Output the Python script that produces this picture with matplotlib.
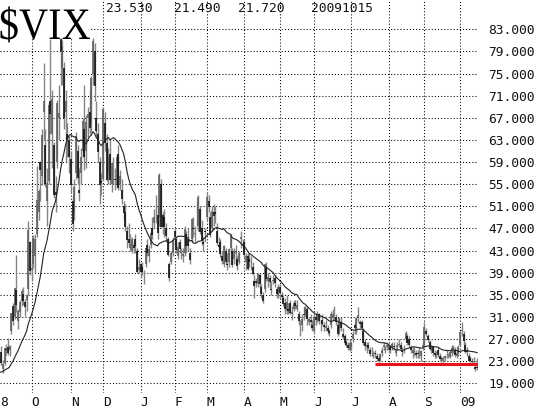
import numpy as np
import matplotlib
matplotlib.use("Agg")
import matplotlib.pyplot as plt
from matplotlib.textpath import TextPath
from matplotlib.patches import PathPatch, Rectangle
from matplotlib.font_manager import FontProperties
from matplotlib.transforms import Affine2D, IdentityTransform

# ---------------- data (daily $VIX, Sep 2 2008 .. Oct 15 2009) ----------------
month_labels = ["O", "N", "D", "J", "F", "M", "A", "M", "J", "J", "A", "S", "09"]
month_days = [21, 23, 19, 22, 20, 19, 22, 21, 20, 22, 22, 21, 21, 11]

warmup_closes = [23.49, 21.15, 21.58, 22.72, 20.66, 20.51, 21.17, 21.55, 20.37, 20.16,
                 21.28, 21.85, 20.87, 20.09, 18.81, 20.98, 20.79, 20.27, 19.43, 20.65]

opens = [
    20.2, 22.0, 22.6, 24.6, 21.5, 22.6, 25.2, 25.5, 25.1, 28.5, 33.0, 31.0, 35.8, 30.2, 31.9, 33.8, 35.2, 33.7, 34.0, 36.0, 44.6,
    39.5, 40.5, 42.0, 46.0, 50.0, 59.0, 56.5, 68.0, 62.0, 52.0, 55.5, 70.0, 64.0, 62.0, 53.5, 59.0, 67.0, 82.0, 76.0, 76.0, 68.0, 64.0, 63.0,
    59.5, 52.0, 50.0, 57.0, 61.0, 54.0, 57.0, 61.0, 65.0, 61.0, 67.0, 68.0, 66.0, 75.0, 79.0, 67.0, 64.0, 59.0, 55.5,
    56.0, 66.0, 62.5, 57.0, 60.5, 55.0, 58.0, 56.0, 55.0, 60.5, 55.0, 54.0, 51.0, 50.0, 46.5, 45.0, 43.5, 43.0, 44.0, 45.0, 43.0, 39.5,
    40.5, 40.0, 38.5, 40.5, 44.0, 42.0, 44.0, 47.0, 48.0, 51.0, 49.5, 49.0, 55.0, 49.5, 49.0, 47.0, 45.0, 40.5, 41.0, 42.5,
    46.5, 45.0, 42.0, 44.5, 42.5, 42.0, 42.5, 46.0, 45.0, 42.5, 45.0, 47.0, 46.0, 49.0, 47.5, 50.5, 47.0, 44.5, 46.5,
    49.0, 52.0, 49.0, 47.0, 50.0, 50.0, 46.5, 44.0, 44.5, 42.0, 40.5, 43.0, 40.5, 41.0, 43.5, 43.0, 41.5, 42.5, 41.5, 41.0, 45.0, 44.0,
    44.5, 41.0, 42.0, 41.5, 41.0, 40.0, 37.5, 37.5, 37.0, 38.5, 36.5, 35.0, 36.0, 40.0, 37.5, 38.0, 36.0, 37.5, 38.0, 36.0, 35.0,
    36.5, 35.0, 34.5, 33.5, 32.0, 32.5, 33.5, 31.5, 32.5, 33.5, 32.5, 31.5, 29.5, 29.5, 31.5, 31.5, 32.5, 30.0, 30.5, 29.5,
    28.5, 31.0, 30.5, 31.5, 29.5, 30.5, 29.5, 29.0, 29.0, 28.5, 29.5, 31.0, 31.5, 31.0, 29.5, 28.5, 30.0, 28.0, 27.5, 26.5, 26.0, 25.0,
    25.5, 27.0, 29.5, 28.5, 31.0, 30.0, 30.0, 28.5, 26.5, 25.5, 26.0, 25.0, 24.5, 24.0, 24.5, 24.0, 23.5, 23.5, 24.5, 25.5, 25.0, 25.5,
    25.0, 25.5, 25.5, 25.8, 24.5, 25.5, 26.0, 26.0, 25.0, 25.0, 27.0, 27.5, 27.0, 25.5, 24.5, 24.5, 24.5, 24.5, 24.5, 24.0, 25.5,
    26.0, 28.5, 27.5, 26.5, 25.0, 25.5, 24.5, 24.0, 25.0, 24.0, 23.5, 23.0, 23.5, 24.5, 24.0, 23.8, 24.5, 25.0, 25.0, 24.0, 24.5,
    26.0, 28.5, 28.0, 26.0, 25.0, 24.0, 23.5, 23.0, 23.0, 22.0, 22.0,
]
highs = [
    22.6, 23.0, 24.4, 25.7, 23.3, 25.6, 26.1, 27.1, 25.9, 31.8, 33.5, 36.3, 42.2, 32.5, 34.0, 36.1, 36.5, 34.2, 35.2, 48.4, 44.8,
    41.0, 45.9, 46.0, 58.2, 54.2, 59.1, 64.9, 76.9, 65.0, 58.0, 69.9, 81.2, 72.0, 62.7, 56.5, 70.3, 73.0, 89.5, 81.0, 77.0, 72.0, 66.0, 63.9,
    61.0, 53.0, 56.0, 64.5, 62.0, 58.0, 61.5, 67.0, 73.0, 67.5, 69.0, 72.0, 74.5, 81.5, 80.5, 70.0, 66.0, 60.0, 57.0,
    68.9, 68.0, 64.0, 61.5, 63.0, 59.0, 60.0, 58.0, 60.5, 62.0, 57.5, 56.0, 52.0, 51.5, 47.5, 48.0, 46.0, 45.5, 44.5, 46.0, 43.5, 41.5,
    40.8, 41.0, 39.5, 43.5, 45.0, 44.0, 46.5, 49.0, 50.5, 53.0, 51.0, 57.0, 56.0, 50.0, 50.5, 48.0, 45.5, 41.0, 43.0, 45.5,
    47.0, 45.5, 44.5, 45.0, 43.5, 43.5, 47.5, 46.5, 47.0, 43.5, 48.8, 49.0, 47.5, 52.0, 53.0, 51.0, 48.5, 45.5, 47.0,
    53.5, 53.0, 50.0, 51.0, 51.5, 51.0, 48.0, 45.5, 45.0, 43.0, 44.0, 43.5, 42.5, 43.5, 46.0, 43.5, 43.5, 44.0, 42.0, 43.0, 46.5, 45.0,
    45.0, 42.5, 42.5, 42.5, 42.0, 41.0, 38.5, 38.0, 39.0, 39.0, 37.0, 35.5, 40.5, 41.0, 39.0, 38.5, 37.5, 38.5, 38.5, 36.5, 37.0,
    37.0, 35.5, 35.0, 34.5, 35.0, 33.5, 34.0, 33.0, 34.0, 34.0, 34.0, 32.0, 30.5, 31.5, 33.0, 33.0, 33.0, 31.0, 31.5, 30.5,
    31.5, 31.5, 32.0, 31.8, 30.5, 31.5, 30.0, 30.5, 29.5, 28.8, 32.0, 32.5, 33.0, 31.5, 30.0, 31.0, 31.0, 29.0, 28.0, 27.0, 26.5, 27.0,
    26.5, 28.5, 30.0, 31.0, 32.8, 30.5, 30.5, 29.0, 27.0, 26.5, 26.5, 25.5, 25.5, 24.8, 25.0, 24.5, 24.0, 24.5, 25.5, 26.5, 25.8, 26.5,
    26.0, 26.0, 26.5, 26.5, 25.5, 26.5, 27.0, 26.5, 25.5, 26.0, 28.5, 28.0, 27.5, 26.0, 25.5, 25.5, 25.0, 25.0, 25.5, 25.0, 26.5,
    30.0, 29.0, 28.0, 26.8, 26.0, 25.8, 25.0, 24.8, 25.5, 24.5, 24.0, 24.0, 24.2, 25.0, 24.5, 25.0, 26.0, 26.0, 25.5, 24.8, 26.0,
    28.5, 30.0, 28.5, 26.5, 25.5, 24.5, 24.0, 23.5, 23.8, 22.5, 23.53,
]
lows = [
    19.6, 21.3, 22.3, 22.3, 20.8, 22.3, 24.2, 24.1, 24.0, 27.9, 29.5, 30.6, 31.9, 28.8, 31.0, 33.0, 33.2, 31.2, 32.0, 35.0, 38.5,
    37.5, 39.8, 39.0, 45.5, 48.5, 52.0, 54.8, 63.0, 54.5, 47.4, 55.0, 64.0, 58.0, 52.5, 50.0, 58.0, 63.0, 73.0, 73.0, 65.0, 59.0, 60.0, 57.0,
    53.5, 46.5, 48.5, 56.0, 55.0, 52.0, 55.0, 60.0, 57.5, 58.0, 63.5, 64.0, 64.5, 73.0, 70.0, 63.5, 59.0, 51.5, 53.0,
    55.5, 61.0, 55.5, 55.0, 55.0, 53.5, 55.0, 54.0, 54.5, 54.0, 54.0, 51.5, 48.5, 46.5, 43.5, 44.0, 43.0, 42.5, 42.5, 42.5, 39.0, 39.0,
    38.0, 38.5, 37.0, 40.0, 42.0, 41.0, 43.5, 45.0, 47.0, 48.0, 45.0, 47.5, 47.0, 46.0, 45.5, 44.5, 42.0, 37.5, 40.5, 42.0,
    44.0, 42.5, 41.5, 42.5, 41.5, 41.0, 42.0, 42.5, 43.0, 40.5, 44.5, 45.5, 44.5, 47.5, 46.5, 46.0, 44.0, 43.0, 44.5,
    48.5, 50.0, 45.5, 46.5, 47.5, 48.0, 44.0, 43.0, 41.8, 40.5, 40.0, 40.5, 39.5, 40.0, 42.5, 40.0, 40.5, 40.5, 39.5, 40.5, 43.5, 43.5,
    41.5, 39.5, 39.5, 40.0, 39.5, 38.5, 34.5, 36.5, 36.5, 36.5, 34.5, 33.5, 35.5, 37.5, 36.5, 36.0, 35.0, 37.0, 36.5, 34.5, 34.5,
    34.5, 34.0, 33.0, 31.5, 31.5, 31.5, 31.5, 30.5, 32.0, 32.5, 32.0, 29.5, 27.5, 28.5, 30.5, 31.0, 29.5, 29.5, 29.0, 28.5,
    28.0, 29.5, 30.0, 29.8, 28.5, 29.5, 28.5, 28.5, 28.0, 27.5, 29.0, 30.5, 30.5, 29.5, 27.5, 28.0, 28.5, 27.0, 26.0, 25.5, 25.0, 24.8,
    25.0, 26.5, 28.0, 28.0, 30.0, 29.0, 28.5, 26.0, 25.0, 24.5, 25.0, 24.0, 24.0, 23.5, 23.5, 23.0, 22.8, 23.0, 24.0, 25.0, 24.5, 25.0,
    24.5, 24.5, 25.0, 25.0, 24.0, 25.0, 25.5, 25.0, 24.0, 24.5, 26.5, 26.0, 25.5, 24.5, 23.5, 24.0, 23.5, 23.5, 23.5, 23.0, 25.0,
    25.5, 27.5, 26.5, 25.0, 24.5, 24.0, 23.5, 23.5, 23.8, 23.0, 22.8, 22.8, 23.0, 23.5, 23.5, 23.5, 24.0, 24.5, 23.8, 23.5, 24.0,
    25.8, 27.5, 26.0, 24.5, 24.0, 23.0, 22.8, 22.3, 22.5, 21.2, 21.49,
]
closes = [
    21.99, 22.45, 24.03, 22.64, 22.52, 25.47, 24.99, 24.39, 25.66, 31.70, 30.30, 36.22, 33.10, 32.07, 33.75, 35.72, 33.86, 32.82, 34.74, 46.72, 39.39,
    39.81, 45.26, 45.14, 52.05, 53.68, 57.53, 63.92, 69.95, 54.99, 55.13, 69.25, 67.61, 70.33, 52.97, 53.11, 69.65, 67.80, 79.13, 80.06, 66.96, 69.96, 62.90, 59.89,
    54.78, 47.73, 54.56, 63.68, 56.10, 53.45, 59.98, 66.46, 59.83, 66.31, 67.64, 65.16, 74.26, 80.86, 72.67, 64.70, 60.90, 54.92, 55.28,
    68.51, 62.36, 55.73, 59.93, 55.78, 58.91, 57.94, 55.73, 59.83, 54.28, 56.40, 52.37, 49.84, 47.34, 44.93, 44.35, 44.21, 45.02, 43.38, 43.90, 39.19, 40.00,
    39.19, 39.08, 38.56, 43.39, 42.56, 43.27, 46.12, 45.84, 49.14, 51.00, 46.11, 56.65, 47.29, 47.29, 47.27, 45.69, 42.25, 38.09, 42.63, 44.84,
    45.52, 43.06, 43.63, 43.37, 42.82, 42.36, 46.86, 43.80, 43.74, 41.25, 48.66, 46.88, 46.15, 49.05, 52.65, 46.35, 44.67, 44.17, 46.35,
    52.65, 50.93, 45.80, 50.17, 49.33, 49.68, 44.37, 43.61, 42.36, 41.18, 43.77, 40.84, 40.36, 43.23, 45.89, 40.36, 42.93, 42.93, 40.16, 42.64, 45.54, 44.14,
    42.28, 42.04, 39.70, 40.93, 40.86, 38.85, 36.53, 37.17, 38.85, 36.94, 35.18, 33.94, 40.49, 37.84, 38.13, 37.28, 35.82, 37.71, 37.12, 35.10, 36.50,
    35.30, 34.53, 33.36, 32.38, 33.76, 32.05, 31.80, 31.96, 33.55, 32.90, 33.12, 30.24, 29.49, 30.57, 31.35, 32.63, 30.62, 30.69, 30.10, 28.92,
    31.04, 30.42, 31.57, 30.18, 29.62, 29.77, 29.25, 29.34, 28.46, 28.15, 31.52, 31.54, 31.54, 30.03, 27.99, 30.81, 29.05, 27.35, 26.36, 25.93, 25.35, 26.35,
    26.22, 27.95, 29.00, 30.85, 31.30, 29.78, 29.02, 26.31, 25.72, 25.89, 25.42, 24.34, 24.40, 24.09, 24.33, 23.43, 23.09, 24.28, 25.01, 25.92, 25.13, 25.92,
    25.90, 25.00, 26.11, 25.65, 24.76, 25.99, 26.16, 25.20, 24.71, 25.01, 28.15, 26.30, 25.98, 25.09, 25.01, 24.89, 24.14, 24.22, 24.46, 24.76, 26.01,
    29.15, 27.94, 26.84, 25.26, 25.49, 24.52, 24.19, 24.15, 24.11, 23.42, 23.32, 23.50, 23.92, 24.56, 23.99, 24.74, 25.31, 25.61, 24.06, 24.50, 25.61,
    28.27, 28.68, 26.58, 24.69, 24.68, 23.12, 23.12, 22.86, 23.04, 21.64, 21.72,
]
last_date = "20091015"
support_level = 22.4
support_start = 223
y_ticks = list(range(19, 84, 4))
ma_period = 20

# ---------------- figure ----------------
W, H = 544, 408
fig = plt.figure(figsize=(W / 100, H / 100), dpi=100)
fig.patch.set_facecolor("white")
ax_left, ax_right, ax_top, ax_bottom = 0, 478, 0, 393
ax = fig.add_axes([ax_left / W, 1 - ax_bottom / H, (ax_right - ax_left) / W, (ax_bottom - ax_top) / H])

o = np.array(opens); h = np.array(highs); l = np.array(lows); c = np.array(closes)
n = len(c)
x = np.arange(n)

# moving average of closes (with warm-up history)
allc = np.array(warmup_closes + closes)
ma = np.convolve(allc, np.ones(ma_period) / ma_period, mode="valid")[len(warmup_closes) - ma_period + 1:]

ax.vlines(x, l, h, color="#858585", lw=1.0, zorder=3)
down = c < o
ax.vlines(x[~down], o[~down], c[~down], color="#606060", lw=1.2, zorder=4)
ax.vlines(x[down], c[down], o[down], color="#111111", lw=1.2, zorder=4)
ax.plot(x, ma, color="#222222", lw=0.8, zorder=5)

# limits: pixel calibration (Oct-1 bar at 31.7px, 1.70px per bar; 83 at y=29.3, 19 at y=383.3)
px_per_bar = 1.70
x0_idx = 21 - 31.7 / px_per_bar
ax.set_xlim(x0_idx, x0_idx + (ax_right - ax_left) / px_per_bar)
v_per_px = 64 / (383.3 - 29.3)
ax.set_ylim(83 - (ax_bottom - 29.3) * v_per_px, 83 + 29.3 * v_per_px)

ax.hlines(support_level, support_start, ax.get_xlim()[1], color="#e8141a", lw=2.2, zorder=6)

# month grid
starts = np.cumsum(month_days)[:-1]
ax.set_xticks(starts)
ax.set_xticklabels(month_labels)
ax.set_yticks(y_ticks)
ax.set_yticklabels([f"{v:.3f}" for v in y_ticks])
ax.yaxis.tick_right()
mono = "DejaVu Sans Mono"
ax.tick_params(axis="both", length=0, labelsize=9.3, colors="#111111")
ax.tick_params(axis="y", pad=7.3)
ax.tick_params(axis="x", pad=2.5)
for lbl in ax.get_xticklabels() + ax.get_yticklabels():
    lbl.set_fontfamily(mono)
for lbl in ax.get_xticklabels():
    lbl.set_horizontalalignment("left")
ax.grid(True, linestyle=(0, (1, 2)), color="black", lw=0.75, zorder=1)
ax.set_axisbelow(True)
for s in ax.spines.values():
    s.set_visible(False)

# partial first month label
fig.text(0.5 / W, 1 - 396 / H, "8", fontfamily=mono, fontsize=9.3, ha="left", va="top", color="#111111")

# header values
hdr = [f"{h[-1]:.3f}", f"{l[-1]:.3f}", f"{c[-1]:.3f}", last_date]
for xp, s in zip([106, 174, 238, 311], hdr):
    fig.text(xp / W, 1 - 11.5 / H, s, fontfamily=mono, fontsize=9.3, ha="left", va="baseline", color="#111111")

# title box and symbol
fig.add_artist(Rectangle((0, H - 39), 91, 39, transform=IdentityTransform(),
                         facecolor="white", edgecolor="none", zorder=10))
tp = TextPath((0, 0), "$VIX", size=45, prop=FontProperties(family="Liberation Serif"))
bb = tp.get_extents()
sx = 89.5 / (bb.x1 - bb.x0)
tr = Affine2D().translate(-bb.x0, 0).scale(sx, 1).translate(0.5, H - 39) + IdentityTransform()
fig.add_artist(PathPatch(tp, transform=tr, facecolor="black", edgecolor="none", zorder=11))

fig.savefig("out.png", dpi=100, facecolor="white")
